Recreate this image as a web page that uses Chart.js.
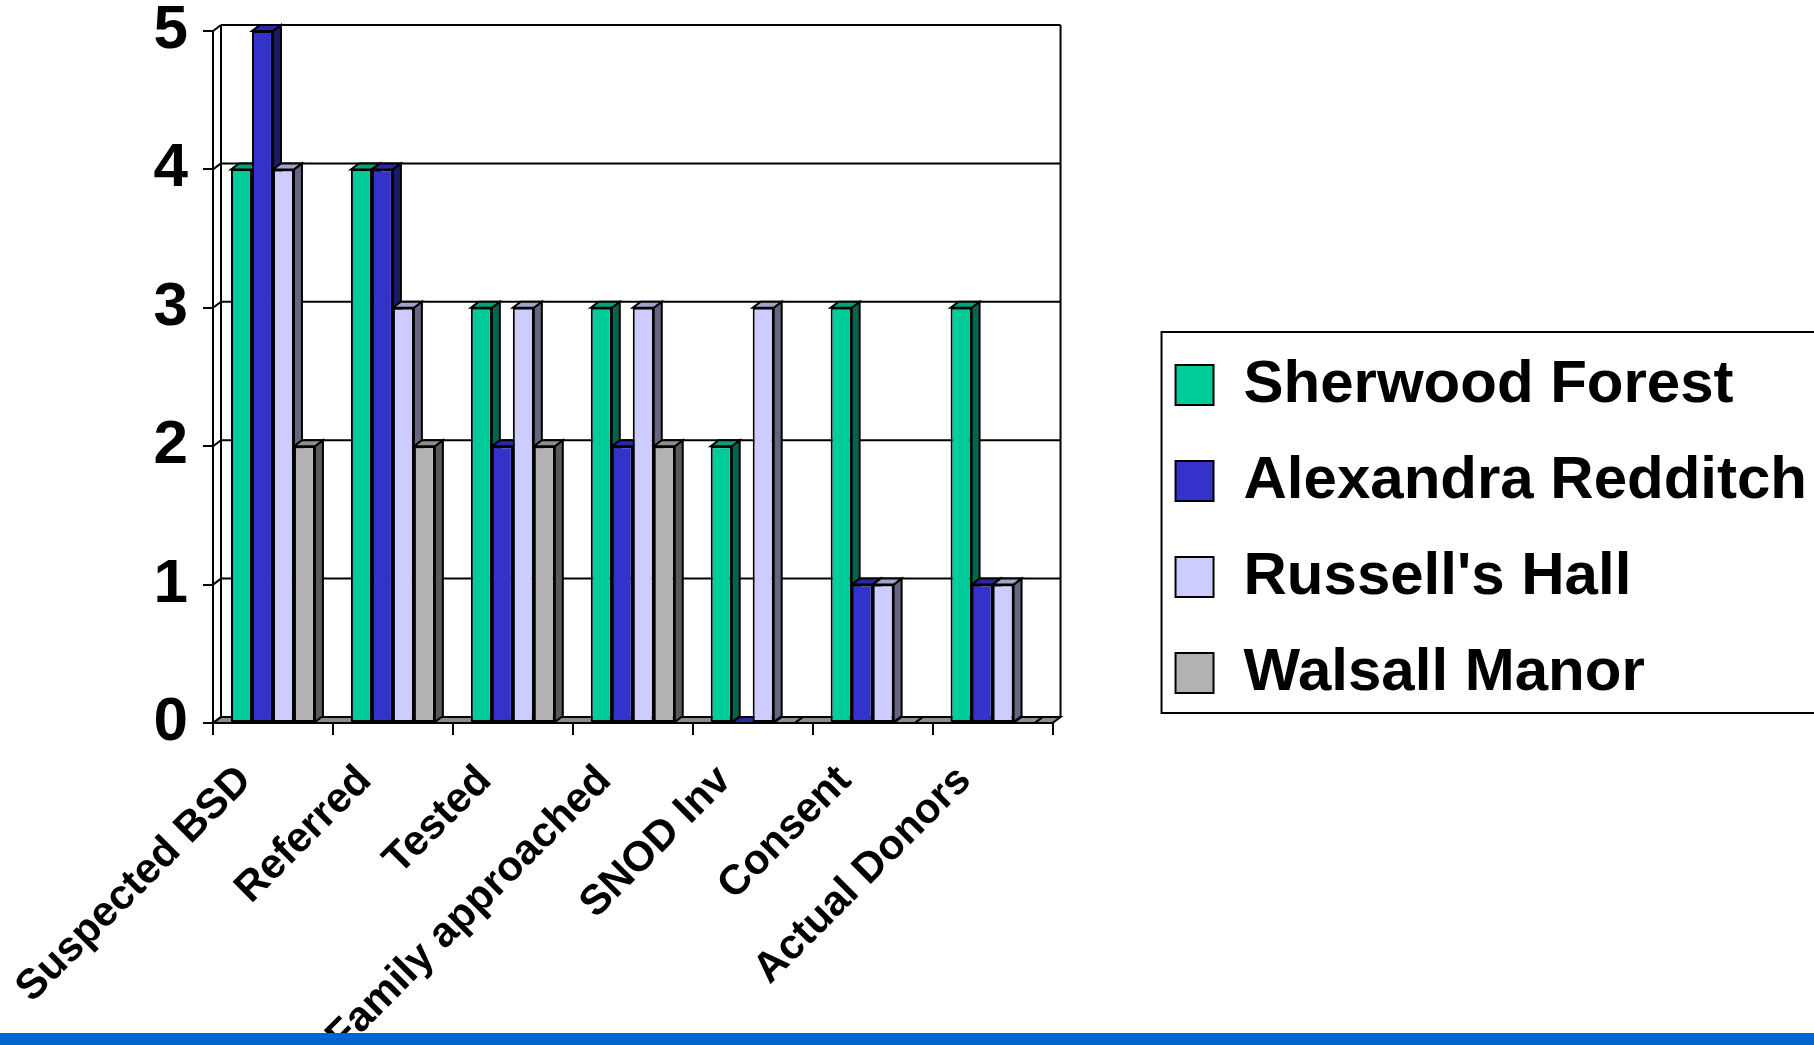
<!DOCTYPE html>
<html>
<head>
<meta charset="utf-8">
<script src="https://cdn.jsdelivr.net/npm/chart.js@4.4.1/dist/chart.umd.min.js"></script>
<style>
  html, body { margin: 0; padding: 0; background: #fff; overflow: hidden; }
  #wrap { position: relative; width: 1814px; height: 1045px; }
  #band { position: absolute; left: 0; bottom: 0; width: 1814px; height: 12px; background: #0066CC; }
</style>
</head>
<body>
<div id="wrap">
  <canvas id="donors" width="1814" height="1045"></canvas>
  <div id="band"></div>
</div>
<script>
const categories = ['Suspected BSD', 'Referred', 'Tested', 'Family approached', 'SNOD Inv', 'Consent', 'Actual Donors'];
const seriesNames = ['Sherwood Forest', 'Alexandra Redditch', "Russell's Hall", 'Walsall Manor'];
const sherwood  = [4, 4, 3, 3, 2, 3, 3];
const alexandra = [5, 4, 2, 2, 0, 1, 1];
const russells  = [4, 3, 3, 3, 3, 1, 1];
const walsall   = [2, 2, 2, 2, 0, 0, 0];
const yMin = 0, yMax = 5, yStep = 1;

const colors = ['#00CC99', '#3333CC', '#CCCCFF', '#B2B2B2'];
const font = "'Liberation Sans', Arial, sans-serif";

// fake 3D depth
const dx = 8, dy = -6;

function shade(hex, f) {
    let n = parseInt(hex.slice(1), 16);
    let r = Math.round(((n >> 16) & 255) * f);
    let g = Math.round(((n >> 8) & 255) * f);
    let b = Math.round((n & 255) * f);
    return 'rgb(' + r + ',' + g + ',' + b + ')';
}

function poly(ctx, pts, fill) {
    ctx.beginPath();
    ctx.moveTo(pts[0][0], pts[0][1]);
    for (let i = 1; i < pts.length; i++) ctx.lineTo(pts[i][0], pts[i][1]);
    ctx.closePath();
    if (fill) { ctx.fillStyle = fill; ctx.fill(); }
    ctx.stroke();
}

function line(ctx, x1, y1, x2, y2) {
    ctx.beginPath();
    ctx.moveTo(x1, y1);
    ctx.lineTo(x2, y2);
    ctx.stroke();
}

const box3d = {
    id: 'box3d',
    afterInit(chart) {
        // the legend is capped at a fraction of the canvas by default, let it take what it needs
        const lg = chart.legend;
        if (!lg || lg._wide) return;
        const fit = lg.fit.bind(lg);
        lg.fit = function () {
            fit();
            const ctx = this.ctx;
            const lab = this.options.labels;
            ctx.save();
            ctx.font = 'bold ' + lab.font.size + 'px ' + lab.font.family;
            let w = 0;
            this.legendItems.forEach(it => { w = Math.max(w, ctx.measureText(it.text).width); });
            ctx.restore();
            this.width = lab.padding + lab.boxWidth + lab.font.size / 2 + w;
        };
        lg._wide = true;
    },
    beforeDatasetsDraw(chart) {
        const ctx = chart.ctx;
        const a = chart.chartArea;
        const ys = chart.scales.y;
        ctx.save();
        ctx.strokeStyle = '#000';
        ctx.lineWidth = 2;

        // floor
        poly(ctx, [[a.left, a.bottom], [a.right, a.bottom], [a.right + dx, a.bottom + dy], [a.left + dx, a.bottom + dy]], '#8C8C8C');

        // back wall grid + left wall edges
        ys.ticks.forEach(t => {
            const py = ys.getPixelForValue(t.value);
            line(ctx, a.left + dx, py + dy, a.right + dx, py + dy);
            line(ctx, a.left, py, a.left + dx, py + dy);
        });
        line(ctx, a.left + dx, a.top + dy, a.left + dx, a.bottom + dy);
        line(ctx, a.right + dx, a.top + dy, a.right + dx, a.bottom + dy);

        // sides and tops of the bars, left to right
        const metas = chart.getSortedVisibleDatasetMetas();
        const n = metas[0].data.length;
        for (let i = 0; i < n; i++) {
            metas.forEach(meta => {
                const bar = meta.data[i];
                const p = bar.getProps(['x', 'y', 'base', 'width'], true);
                const l = p.x - p.width / 2, r = p.x + p.width / 2;
                const c = chart.data.datasets[meta.index].backgroundColor;
                poly(ctx, [[r, p.y], [r + dx, p.y + dy], [r + dx, p.base + dy], [r, p.base]], shade(c, 0.5));
                poly(ctx, [[l, p.y], [r, p.y], [r + dx, p.y + dy], [l + dx, p.y + dy]], shade(c, 0.8));
            });
        }
        ctx.restore();
    },
    afterDraw(chart) {
        // frame round the legend
        const lg = chart.legend;
        if (!lg || !lg.legendHitBoxes.length) return;
        const hb = lg.legendHitBoxes;
        const ctx = chart.ctx;
        ctx.save();
        ctx.strokeStyle = '#000';
        ctx.lineWidth = 2;
        const top = hb[0].top - 23;
        const bottom = hb[hb.length - 1].top + hb[hb.length - 1].height + 10;
        ctx.strokeRect(lg.left + 22, top, 1900, bottom - top);
        ctx.restore();
    }
};

const datasets = [sherwood, alexandra, russells, walsall].map((vals, i) => ({
    label: seriesNames[i],
    data: vals,
    backgroundColor: colors[i],
    borderColor: '#000',
    borderWidth: 2,
    borderSkipped: false,
    barPercentage: 1.0,
    categoryPercentage: 0.70
}));

new Chart(document.getElementById('donors'), {
    type: 'bar',
    data: { labels: categories, datasets: datasets },
    options: {
        responsive: false,
        animation: false,
        events: [],
        layout: { padding: { top: 1, right: 7, bottom: 0, left: 0 } },
        scales: {
            x: {
                grid: { offset: true, drawOnChartArea: false, drawTicks: true, tickLength: 12, color: '#000', lineWidth: 2 },
                border: { display: true, color: '#000', width: 2 },
                ticks: {
                    autoSkip: false,
                    minRotation: 45,
                    maxRotation: 45,
                    labelOffset: -28,
                    padding: 21,
                    color: '#000',
                    font: { family: font, size: 42, weight: 'bold' }
                },
                afterFit(s) { s.height = 322; }
            },
            y: {
                min: yMin,
                max: yMax,
                grid: { drawOnChartArea: false, drawTicks: true, tickLength: 10, color: '#000', lineWidth: 2 },
                border: { display: true, color: '#000', width: 2 },
                ticks: {
                    stepSize: yStep,
                    padding: 15,
                    color: '#000',
                    font: { family: font, size: 62, weight: 'bold', lineHeight: 1 }
                },
                afterFit(s) { s.width = 213; s.paddingTop = 31; }
            },
            spacer: {
                type: 'linear',
                position: 'right',
                display: true,
                grid: { display: false, drawTicks: false },
                border: { display: false },
                ticks: { display: false },
                afterFit(s) { s.width = 87; }
            }
        },
        plugins: {
            title: { display: false },
            tooltip: { enabled: false },
            legend: {
                position: 'right',
                align: 'center',
                title: { display: true, text: '', padding: 0, font: { size: 12, lineHeight: 1 } },
                labels: {
                    color: '#000',
                    boxWidth: 38,
                    boxHeight: 40,
                    padding: 36,
                    font: { family: font, size: 60, weight: 'bold' }
                }
            }
        }
    },
    plugins: [box3d]
});
</script>
</body>
</html>
